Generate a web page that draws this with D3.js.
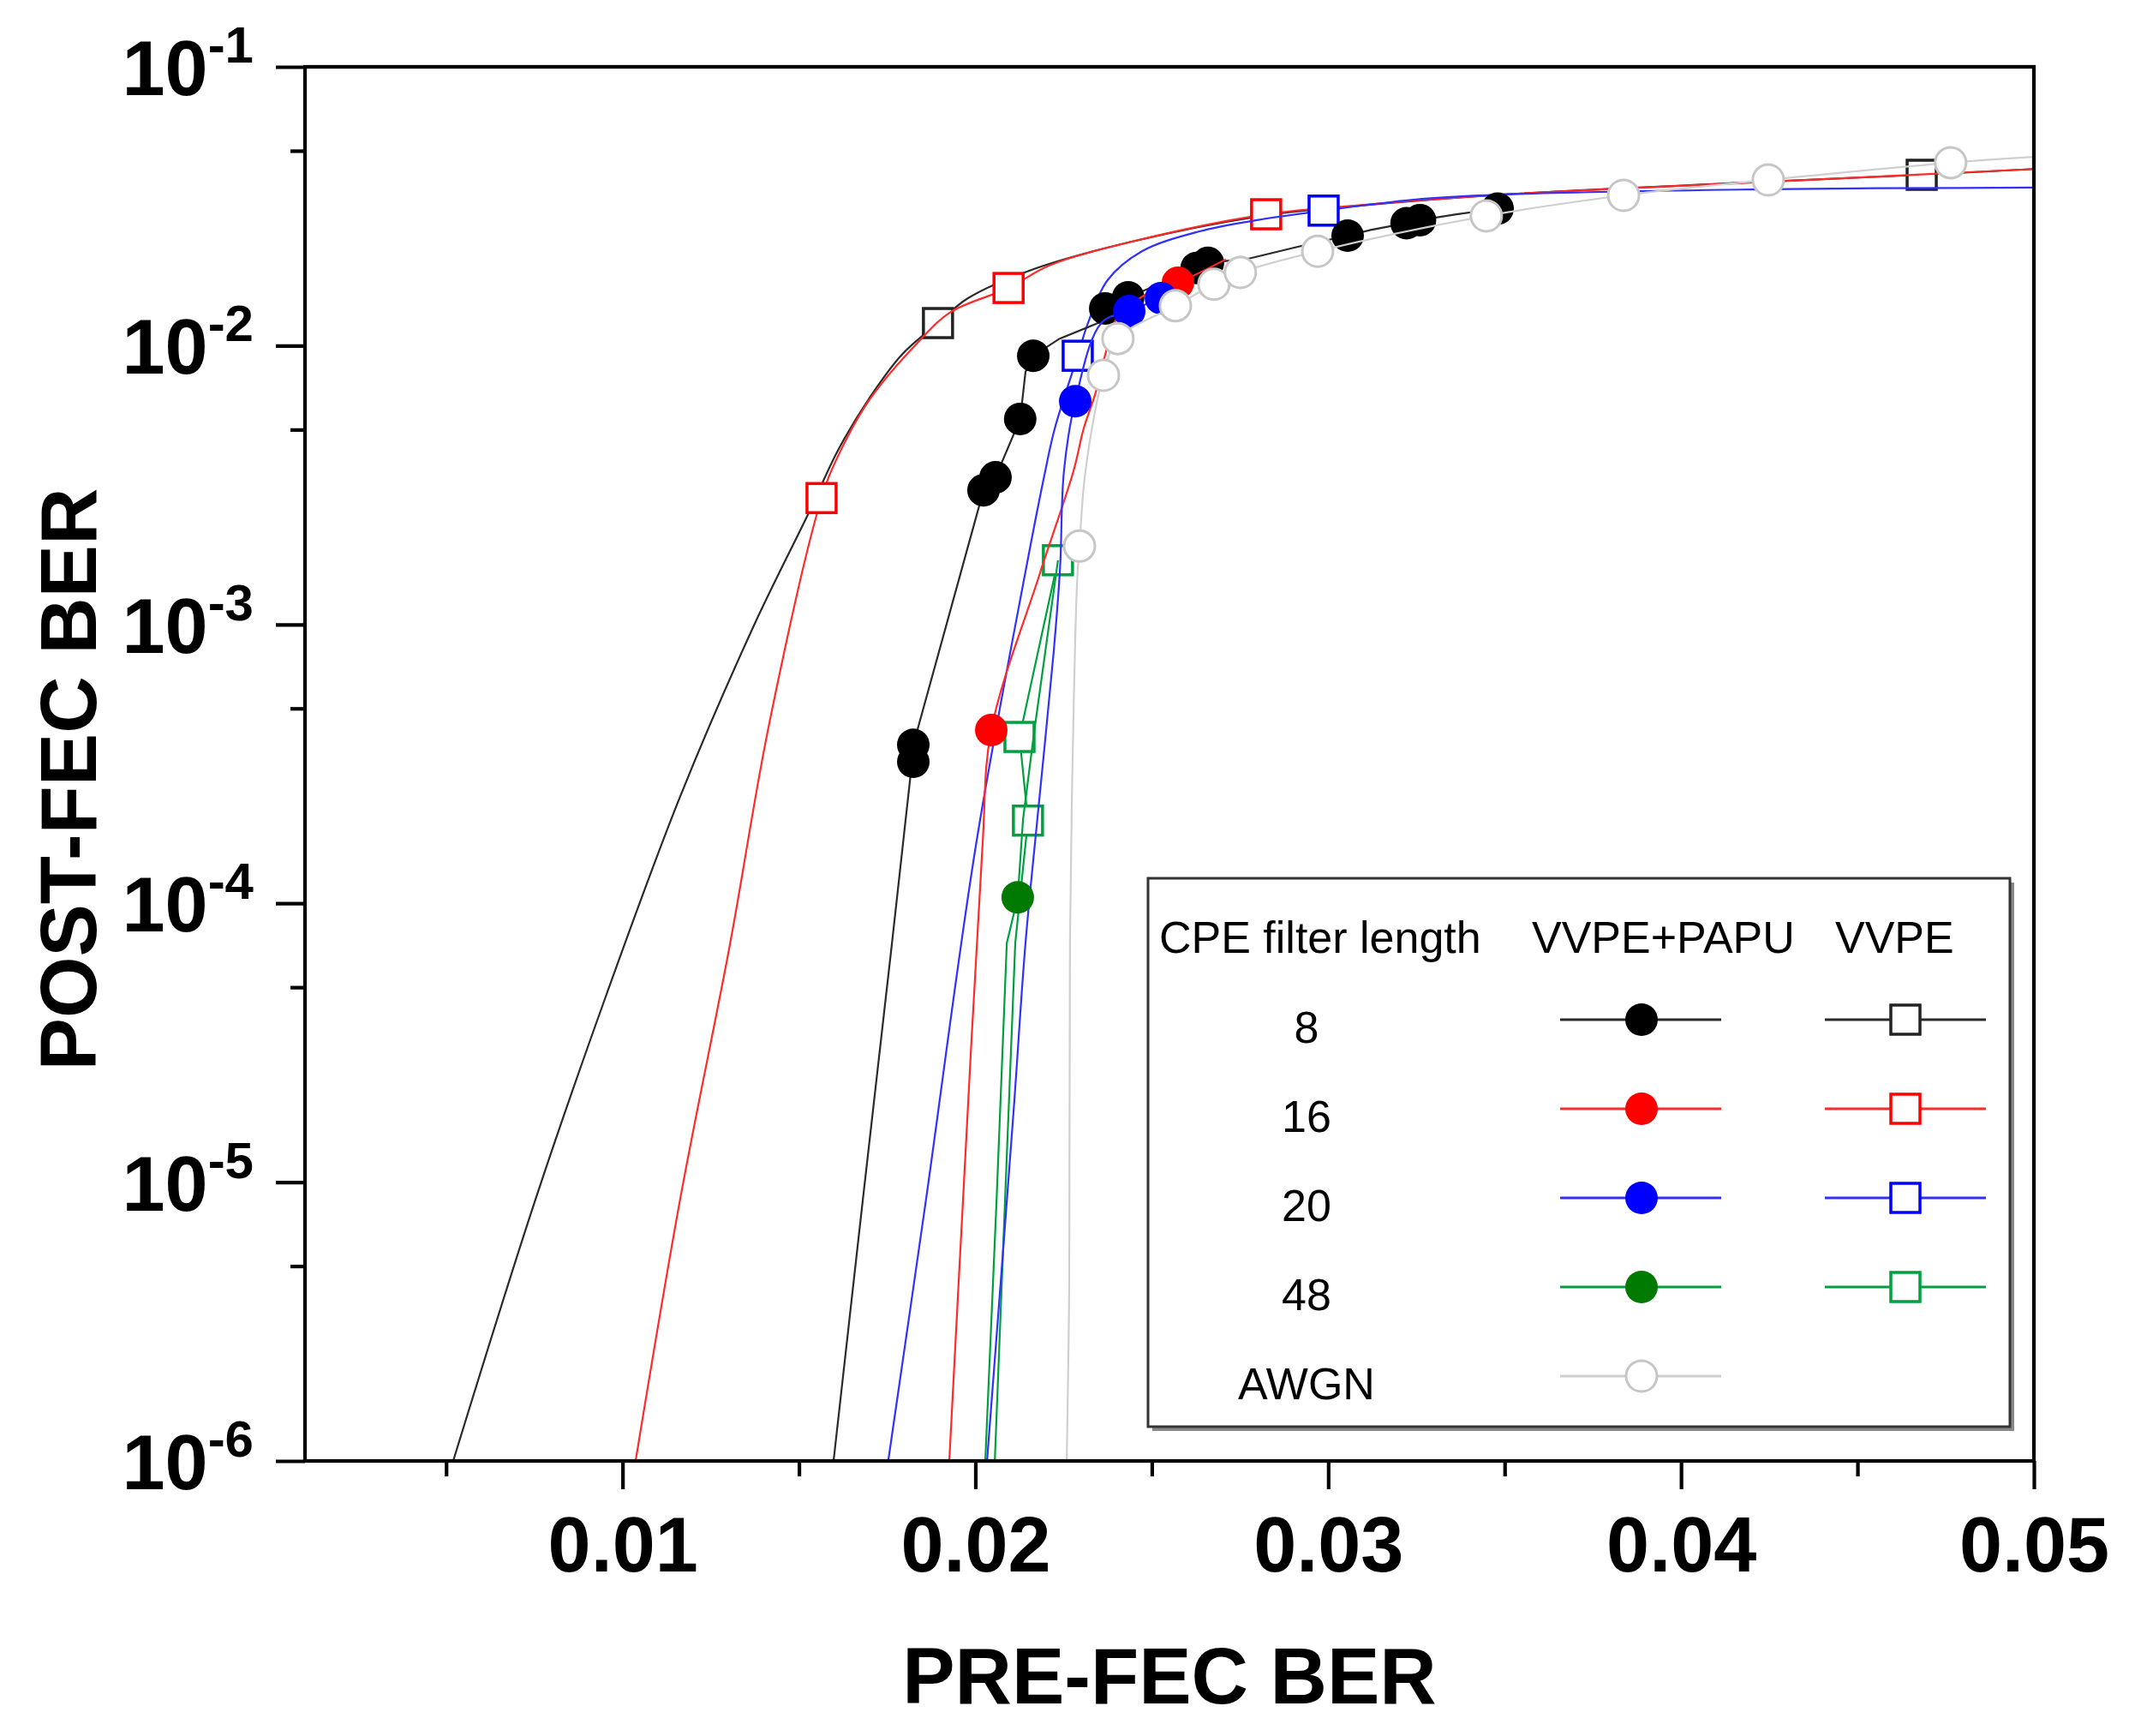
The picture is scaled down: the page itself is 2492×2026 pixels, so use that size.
<!DOCTYPE html>
<html>
<head>
<meta charset="utf-8">
<script src="https://cdn.jsdelivr.net/npm/d3@7"></script>
<style>
  html, body { margin: 0; padding: 0; background: #fff; }
  svg { display: block; }
</style>
</head>
<body>
<svg id="chart" width="2492" height="2026"></svg>
<script>
// ---------------- data ----------------
const xMajorTicks = [0.01, 0.02, 0.03, 0.04, 0.05];
const xMinorTicks = [0.005, 0.015, 0.025, 0.035, 0.045];
const yMajorTicks = [1e-1, 1e-2, 1e-3, 1e-4, 1e-5, 1e-6];
const yTickExponents = ["-1", "-2", "-3", "-4", "-5", "-6"];
const yMinorTicks = [5e-2, 5e-3, 5e-4, 5e-5, 5e-6];

const xTitle = "PRE-FEC BER";
const yTitle = "POST-FEC BER";

const legendHeader = ["CPE filter length", "VVPE+PAPU", "VVPE"];
const legendRows = ["8", "16", "20", "48", "AWGN"];

// VVPE, CPE filter length 8 (open black squares, fitted curve)
const vvpe8Line = [[0.0052,1e-6],[0.00753,8.65e-6],[0.00955,4.73e-5],[0.01163,2.41e-4],[0.01372,9.9e-4],[0.01528,2.52e-3],[0.0161,4.2e-3],[0.0170,6.5e-3],[0.01792,9.3e-3],[0.01894,0.01205],[0.01979,0.0148],[0.02164,0.0188],[0.02443,0.0236],[0.0282,0.0293],[0.0308,0.0317],[0.0349,0.0348],[0.0425,0.0388],[0.04682,0.041],[0.05,0.043]];
const vvpe8Pts = [[0.01894,0.01205],[0.04682,0.041]];

// VVPE, 16 (open red squares)
const vvpe16Line = [[0.01037,1e-6],[0.01163,8.65e-6],[0.01304,7.08e-5],[0.01416,4.43e-4],[0.01564,2.84e-3],[0.0161,4.0e-3],[0.0170,6.4e-3],[0.01838,0.0103],[0.0193,0.0132],[0.02094,0.0161],[0.0221,0.0194],[0.02443,0.0236],[0.02824,0.0296],[0.03079,0.0318],[0.0349,0.0348],[0.0425,0.0387],[0.05,0.043]];
const vvpe16Pts = [[0.01564,2.84e-3],[0.02094,0.0161],[0.02824,0.0296]];

// VVPE, 20 (open blue squares)
const vvpe20Line = [[0.01753,1e-6],[0.0186,8.65e-6],[0.02001,1.6e-4],[0.0214,1.5e-3],[0.02198,3.55e-3],[0.02225,5.05e-3],[0.0229,9.2e-3],[0.02319,0.01205],[0.02375,0.0172],[0.02472,0.0218],[0.02635,0.0257],[0.02798,0.0282],[0.02987,0.0305],[0.03242,0.0334],[0.03485,0.0348],[0.0425,0.0364],[0.05,0.0369]];
const vvpe20Pts = [[0.0229,9.2e-3],[0.02987,0.0305]];

// VVPE, 48 (open green squares)
const vvpe48Line = [[0.02234,1.7e-3],[0.02125,3.95e-4],[0.02149,1.98e-4],[0.02113,7.2e-5],[0.02084,8.6e-6],[0.02055,1e-6]];
const vvpe48Pts = [[0.02234,1.7e-3],[0.02125,3.95e-4],[0.02149,1.98e-4]];

// VVPE+PAPU, 8 (filled black circles)
const papu8Line = [[0.01598,1e-6],[0.01681,8.65e-6],[0.01763,7.08e-5],[0.01817,2.94e-4],[0.01824,3.22e-4],[0.01824,3.7e-4],[0.02023,3.03e-3],[0.02057,3.37e-3],[0.02127,5.46e-3],[0.02142,8.05e-3],[0.02164,9.2e-3],[0.02239,0.0106],[0.02351,0.0121],[0.02368,0.0136],[0.02433,0.0149],[0.02627,0.019],[0.02659,0.0198],[0.02773,0.0205],[0.02919,0.0227],[0.03055,0.0248],[0.0312,0.026],[0.03222,0.0275],[0.0326,0.0282],[0.03363,0.0296],[0.0348,0.031]];
const papu8Pts = [[0.01824,3.7e-4],[0.01824,3.22e-4],[0.02023,3.03e-3],[0.02057,3.37e-3],[0.02127,5.46e-3],[0.02164,9.2e-3],[0.02368,0.0136],[0.02433,0.0149],[0.02627,0.019],[0.02659,0.0198],[0.03055,0.0248],[0.03222,0.0275],[0.0326,0.0282],[0.0348,0.031]];

// VVPE+PAPU, 16 (filled red circles)
const papu16Line = [[0.01926,1e-6],[0.01965,8.65e-6],[0.0202,1.6e-4],[0.02045,4.18e-4],[0.02181,1.5e-3],[0.02278,3.55e-3],[0.02307,5.05e-3],[0.02341,6.8e-3],[0.0237,9.5e-3],[0.02395,0.0122],[0.0248,0.0152],[0.02574,0.0168],[0.0271,0.0204]];
const papu16Pts = [[0.02045,4.18e-4],[0.02574,0.0168]];

// VVPE+PAPU, 20 (filled blue circles)
const papu20Line = [[0.02033,1e-6],[0.02108,1.78e-5],[0.02142,7.2e-5],[0.02181,2.35e-4],[0.02222,8e-4],[0.0224,1.6e-3],[0.02251,3.55e-3],[0.02283,6.32e-3],[0.02358,0.0121],[0.02436,0.0133],[0.02526,0.0148]];
const papu20Pts = [[0.02283,6.32e-3],[0.02436,0.0133],[0.02526,0.0148]];

// VVPE+PAPU, 48 (filled green circles)
const papu48Line = [[0.02234,1.7e-3],[0.02166,4.07e-4],[0.02135,2.0e-4],[0.0212,1.05e-4],[0.02089,7.2e-5],[0.0206,8.6e-6],[0.02028,1e-6]];
const papu48Pts = [[0.0212,1.05e-4]];

// AWGN (open grey circles)
const awgnLine = [[0.02259,1e-6],[0.02266,4.27e-6],[0.02268,7.2e-5],[0.02276,3.5e-4],[0.02288,1.4e-3],[0.02295,1.91e-3],[0.02312,3.55e-3],[0.02363,7.83e-3],[0.02404,0.0106],[0.02567,0.0139],[0.02676,0.0166],[0.02751,0.0183],[0.0297,0.0218],[0.03448,0.0292],[0.03837,0.0346],[0.04247,0.0393],[0.04764,0.0453],[0.05,0.0475]];
const awgnPts = [[0.02295,1.91e-3],[0.02363,7.83e-3],[0.02404,0.0106],[0.02567,0.0139],[0.02676,0.0166],[0.02751,0.0183],[0.0297,0.0218],[0.03448,0.0292],[0.03837,0.0346],[0.04247,0.0393],[0.04764,0.0453]];

// ---------------- drawing ----------------
const FONT = "'Liberation Sans', Arial, Helvetica, sans-serif";
const svg = d3.select("#chart");
svg.append("rect").attr("width", 2492).attr("height", 2026).attr("fill", "#fff");

const L = 356, R = 2374, T = 78, B = 1705;
const x = d3.scaleLinear().domain([0.001, 0.05]).range([L, R]);
const y = d3.scaleLog().domain([1e-6, 1e-1]).range([B, T]);

const COL = {
  black: "#000000", blackLine: "#2a2a2a",
  red: "#ff0000", redLine: "#ff2a2a",
  blue: "#0000ff", blueLine: "#3030ff",
  greenFill: "#007a00", greenLine: "#00a040",
  grey: "#cfcfcf"
};

const styles = [
  {line: vvpe8Line,  pts: vvpe8Pts,  lc: COL.blackLine, mk: "square", stroke: "#222", fill: "#fff", curve: d3.curveCatmullRom.alpha(0.5)},
  {line: vvpe16Line, pts: vvpe16Pts, lc: COL.redLine,   mk: "square", stroke: COL.red, fill: "#fff", curve: d3.curveCatmullRom.alpha(0.5)},
  {line: vvpe20Line, pts: vvpe20Pts, lc: COL.blueLine,  mk: "square", stroke: COL.blue, fill: "#fff", curve: d3.curveCatmullRom.alpha(0.5)},
  {line: vvpe48Line, pts: vvpe48Pts, lc: COL.greenLine, mk: "square", stroke: COL.greenLine, fill: "#fff", curve: d3.curveLinear},
  {line: papu8Line,  pts: papu8Pts,  lc: COL.blackLine, mk: "dot", stroke: "none", fill: COL.black, curve: d3.curveLinear},
  {line: papu16Line, pts: papu16Pts, lc: COL.redLine,   mk: "dot", stroke: "none", fill: COL.red, curve: d3.curveCatmullRom.alpha(0.5)},
  {line: papu20Line, pts: papu20Pts, lc: COL.blueLine,  mk: "dot", stroke: "none", fill: COL.blue, curve: d3.curveCatmullRom.alpha(0.5)},
  {line: papu48Line, pts: papu48Pts, lc: COL.greenLine, mk: "dot", stroke: "none", fill: COL.greenFill, curve: d3.curveLinear},
  {line: awgnLine,   pts: awgnPts,   lc: COL.grey,      mk: "ring", stroke: "#c6c6c6", fill: "#fff", curve: d3.curveCatmullRom.alpha(0.5)}
];

const SQ = 34, RAD = 19;
function drawMarker(g, kind, cx, cy, stroke, fill) {
  if (kind === "square") {
    g.append("rect").attr("x", cx - SQ/2).attr("y", cy - SQ/2).attr("width", SQ).attr("height", SQ)
      .attr("fill", fill).attr("stroke", stroke).attr("stroke-width", 3.5);
  } else if (kind === "dot") {
    g.append("circle").attr("cx", cx).attr("cy", cy).attr("r", RAD).attr("fill", fill);
  } else {
    g.append("circle").attr("cx", cx).attr("cy", cy).attr("r", RAD - 1).attr("fill", fill)
      .attr("stroke", stroke).attr("stroke-width", 3);
  }
}

// clip for the plot area
svg.append("defs").append("clipPath").attr("id", "plotclip")
  .append("rect").attr("x", L).attr("y", T).attr("width", R - L).attr("height", B - T);

const plot = svg.append("g").attr("clip-path", "url(#plotclip)");
styles.forEach(s => {
  const gen = d3.line().x(d => x(d[0])).y(d => y(d[1])).curve(s.curve);
  const g = plot.append("g");
  g.append("path").attr("d", gen(s.line)).attr("fill", "none")
    .attr("stroke", s.lc).attr("stroke-width", 2.2);
  s.pts.forEach(p => drawMarker(g, s.mk, x(p[0]), y(p[1]), s.stroke, s.fill));
});

// ---------------- axes ----------------
const axisW = 4.2;
const gx = svg.append("g").attr("transform", `translate(0,${B})`)
  .call(d3.axisBottom(x).tickValues(xMajorTicks).tickSize(33).tickSizeOuter(0)
    .tickPadding(32).tickFormat(d3.format(".2f")));
gx.select(".domain").remove();
gx.selectAll("line").attr("stroke", "#000").attr("stroke-width", axisW);
gx.selectAll("text").attr("font-family", FONT).attr("font-weight", "bold")
  .attr("font-size", 90).attr("fill", "#000");

const gxm = svg.append("g").attr("transform", `translate(0,${B})`)
  .call(d3.axisBottom(x).tickValues(xMinorTicks).tickSize(18).tickSizeOuter(0).tickFormat(""));
gxm.select(".domain").remove();
gxm.selectAll("line").attr("stroke", "#000").attr("stroke-width", axisW);

const gy = svg.append("g").attr("transform", `translate(${L},0)`)
  .call(d3.axisLeft(y).tickValues(yMajorTicks).tickSize(34).tickSizeOuter(0).tickFormat(""));
gy.select(".domain").remove();
gy.selectAll("line").attr("stroke", "#000").attr("stroke-width", axisW);

const gym = svg.append("g").attr("transform", `translate(${L},0)`)
  .call(d3.axisLeft(y).tickValues(yMinorTicks).tickSize(17).tickSizeOuter(0).tickFormat(""));
gym.select(".domain").remove();
gym.selectAll("line").attr("stroke", "#000").attr("stroke-width", axisW);

// y tick labels 10^-n
yMajorTicks.forEach((v, i) => {
  const t = svg.append("text").attr("x", 296).attr("y", y(v) + 33)
    .attr("text-anchor", "end").attr("font-family", FONT).attr("font-weight", "bold")
    .attr("font-size", 90).attr("fill", "#000");
  t.append("tspan").text("10");
  t.append("tspan").attr("font-size", 60).attr("dy", -38).text(yTickExponents[i]);
});

// frame
svg.append("rect").attr("x", L).attr("y", T).attr("width", R - L).attr("height", B - T)
  .attr("fill", "none").attr("stroke", "#000").attr("stroke-width", axisW);

// titles
svg.append("text").attr("x", (L + R) / 2).attr("y", 1988).attr("text-anchor", "middle")
  .attr("font-family", FONT).attr("font-weight", "bold").attr("font-size", 92).text(xTitle);
svg.append("text").attr("transform", `translate(112,${(T + B) / 2 + 18}) rotate(-90)`)
  .attr("text-anchor", "middle").attr("font-family", FONT).attr("font-weight", "bold")
  .attr("font-size", 92).text(yTitle);

// ---------------- legend ----------------
const LX = 1340, LY = 1025, LW = 1006, LH = 640;
svg.append("rect").attr("x", LX + 5).attr("y", LY + 5).attr("width", LW).attr("height", LH).attr("fill", "#888");
svg.append("rect").attr("x", LX).attr("y", LY).attr("width", LW).attr("height", LH)
  .attr("fill", "#fff").attr("stroke", "#333").attr("stroke-width", 3);

const hdrX = [1353, 1788, 2142];
legendHeader.forEach((h, i) => {
  svg.append("text").attr("x", hdrX[i]).attr("y", 1112).attr("font-family", FONT)
    .attr("font-size", 52).attr("fill", "#000").text(h);
});

const rowY0 = 1190, rowStep = 104;
const col1 = [1821, 2009], col2 = [2130, 2318];
const legendStyles = [styles[4], styles[5], styles[6], styles[7], styles[8]];
const legendStylesOpen = [styles[0], styles[1], styles[2], styles[3], null];
legendRows.forEach((lab, i) => {
  const ry = rowY0 + i * rowStep;
  svg.append("text").attr("x", 1525).attr("y", ry + 27).attr("text-anchor", "middle")
    .attr("font-family", FONT).attr("font-size", 52).attr("fill", "#000").text(lab);
  const s1 = legendStyles[i];
  const g1 = svg.append("g");
  g1.append("line").attr("x1", col1[0]).attr("x2", col1[1]).attr("y1", ry).attr("y2", ry)
    .attr("stroke", s1.lc).attr("stroke-width", 3);
  drawMarker(g1, s1.mk, (col1[0] + col1[1]) / 2 + 1, ry, s1.stroke, s1.fill);
  const s2 = legendStylesOpen[i];
  if (s2) {
    const g2 = svg.append("g");
    g2.append("line").attr("x1", col2[0]).attr("x2", col2[1]).attr("y1", ry).attr("y2", ry)
      .attr("stroke", s2.lc).attr("stroke-width", 3);
    drawMarker(g2, s2.mk, (col2[0] + col2[1]) / 2, ry, s2.stroke, s2.fill);
  }
});
</script>
</body>
</html>
